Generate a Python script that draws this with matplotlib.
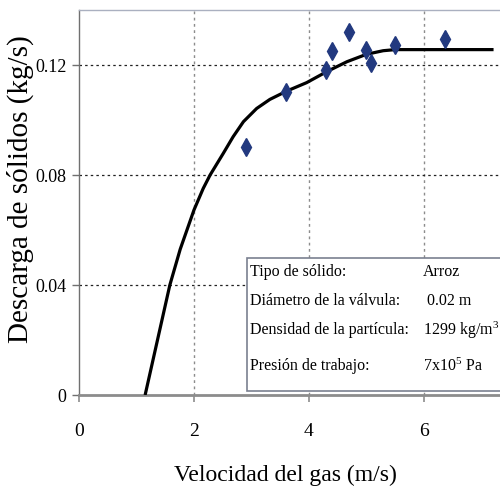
import matplotlib.pyplot as plt
from matplotlib.patches import Rectangle

plt.rcParams['font.family'] = ['Liberation Serif', 'DejaVu Serif']
plt.rcParams['mathtext.fontset'] = 'custom'
plt.rcParams['mathtext.rm'] = 'Liberation Serif'
plt.rcParams['mathtext.it'] = 'Liberation Serif'

# experimental points
vel_exp = [2.90, 3.60, 4.30, 4.40, 4.70, 4.99, 5.07, 5.50, 6.37]
desc_exp = [0.0902, 0.1101, 0.1182, 0.1252, 0.1321, 0.1256, 0.1208, 0.1274, 0.1295]

# fitted curve
vel_curve = [1.15, 1.58, 1.76, 2.0, 2.16, 2.28, 2.51, 2.68, 2.86, 3.09, 3.32,
             3.61, 3.96, 4.31, 4.66, 5.0, 5.29, 5.50, 6.0, 6.5, 7.21]
desc_curve = [0.0, 0.040, 0.053, 0.0673, 0.0751, 0.080, 0.0879, 0.0939, 0.0994,
              0.1042, 0.1075, 0.1105, 0.1136, 0.1176, 0.1212, 0.1239, 0.1252,
              0.1256, 0.1256, 0.1256, 0.1256]

xticks = [0, 2, 4, 6]
yticks = [0, 0.04, 0.08, 0.12]
ytick_labels = ['0', '0.04', '0.08', '0.12']

info_labels = ['Tipo de sólido:', 'Diámetro de la válvula:',
               'Densidad de la partícula:', 'Presión de trabajo:']
info_values = ['Arroz', ' 0.02 m', r'1299 kg/m$^{3}$', r'7x10$^{5}$ Pa']
info_y = [0.0446, 0.0342, 0.0236, 0.0105]

fig = plt.figure(figsize=(5.0, 4.86), dpi=100)
ax = fig.add_axes([0.158, 0.1872, 0.842, 0.7922])

ax.set_xlim(0, 7.322)
ax.set_ylim(0, 0.14)

for x in xticks[1:]:
    ax.axvline(x, color='#8c8c8c', lw=1.0, ls=(0, (2, 2.5)), zorder=1)
for y in yticks[1:]:
    ax.axhline(y, color='#222222', lw=0.9, ls=(0, (2, 2.5)), zorder=1)

ax.plot(vel_curve, desc_curve, color='black', lw=2.3, zorder=3,
        solid_capstyle='butt', solid_joinstyle='round')
ax.plot(vel_exp, desc_exp, ls='none', marker='d', ms=9, color='#22397f',
        mec='#22397f', zorder=4)

ax.set_xticks(xticks)
ax.set_xticklabels([str(v) for v in xticks])
ax.set_yticks(yticks)
ax.set_yticklabels(ytick_labels)
ax.tick_params(axis='x', length=5, width=1.2, color='#8c8c8c', pad=15,
               labelsize=14)
ax.tick_params(axis='y', length=5, width=1.0, color='#707070', pad=4,
               labelsize=13)

ax.spines['right'].set_visible(False)
ax.spines['top'].set_color('#aab0c0')
ax.spines['top'].set_linewidth(1.0)
ax.spines['left'].set_color('#707070')
ax.spines['left'].set_linewidth(1.0)
ax.spines['bottom'].set_color('#8c8c8c')
ax.spines['bottom'].set_linewidth(2.0)

ax.set_xlabel('Velocidad del gas (m/s)', fontsize=17)
ax.xaxis.set_label_coords(0.49, -0.18)
ax.set_ylabel('Descarga de sólidos (kg/s)', fontsize=21)
ax.yaxis.set_label_coords(-0.107, 0.535)

box = Rectangle((2.92, 0.0015), 5.0, 0.0483, facecolor='white',
                edgecolor='#7a8090', lw=1.2, zorder=5)
ax.add_patch(box)
for lab, val, y in zip(info_labels, info_values, info_y):
    ax.text(2.97, y, lab, fontsize=11.5, va='center', ha='left', zorder=6)
    ax.text(5.98, y, val, fontsize=11.5, va='center', ha='left', zorder=6)

fig.savefig('out.png', dpi=100)
